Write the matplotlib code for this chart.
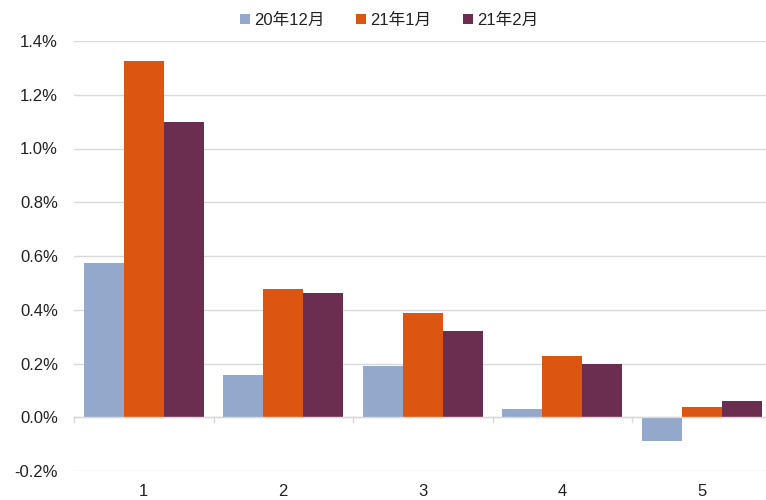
import matplotlib
matplotlib.use("Agg")
import matplotlib.pyplot as plt
import numpy as np
from matplotlib.ticker import FuncFormatter

plt.rcParams['font.family'] = ['Liberation Sans', 'Noto Sans CJK SC', 'DejaVu Sans']

categories = ["1", "2", "3", "4", "5"]
series_names = ["20年12月", "21年1月", "21年2月"]
dec20 = [0.573, 0.156, 0.19, 0.03, -0.089]
jan21 = [1.325, 0.477, 0.387, 0.227, 0.037]
feb21 = [1.098, 0.462, 0.32, 0.197, 0.06]
colors = ["#94A8CB", "#DC5511", "#6B2D50"]
yticks = [-0.2, 0.0, 0.2, 0.4, 0.6, 0.8, 1.0, 1.2, 1.4]

fig = plt.figure(figsize=(7.66, 5.0), dpi=100)
ax = fig.add_axes([74/766, 29/500, 1 - 74/766, 430/500])

x = np.arange(len(categories))
w = 0.286
for i, (vals, name, c) in enumerate(zip([dec20, jan21, feb21], series_names, colors)):
    ax.bar(x + (i - 1) * w, vals, width=w, color=c, label=name, zorder=3)

ax.set_xlim(-0.5, 4.46)
ax.set_ylim(-0.2, 1.4)
ax.set_yticks(yticks)
ax.yaxis.set_major_formatter(FuncFormatter(lambda v, p: f"{v:.1f}%"))
ax.grid(axis='y', color='#D9D9D9', linewidth=1, zorder=0)
for s in ['top', 'right', 'left', 'bottom']:
    ax.spines[s].set_visible(False)
ax.axhline(0, color='#D9D9D9', linewidth=1, zorder=4)
# category boundary ticks on zero line
for b in np.arange(-0.5, len(categories), 1.0):
    ax.plot([b, b], [0, -0.018], color='#D9D9D9', linewidth=1, zorder=4, clip_on=False)

ax.set_xticks(x)
ax.set_xticklabels(categories)
ax.tick_params(axis='x', length=0, pad=9, labelsize=12, colors='#222222')
ax.tick_params(axis='y', length=0, pad=11.5, labelsize=12, colors='#222222')

leg = fig.legend(loc='upper center', bbox_to_anchor=(0.508, 1.005), ncol=3, frameon=False,
                 fontsize=12, handlelength=0.6, handleheight=0.6, handletextpad=0.25,
                 columnspacing=1.9)
for t in leg.get_texts():
    t.set_color('#222222')

fig.savefig("out.png", dpi=100)
